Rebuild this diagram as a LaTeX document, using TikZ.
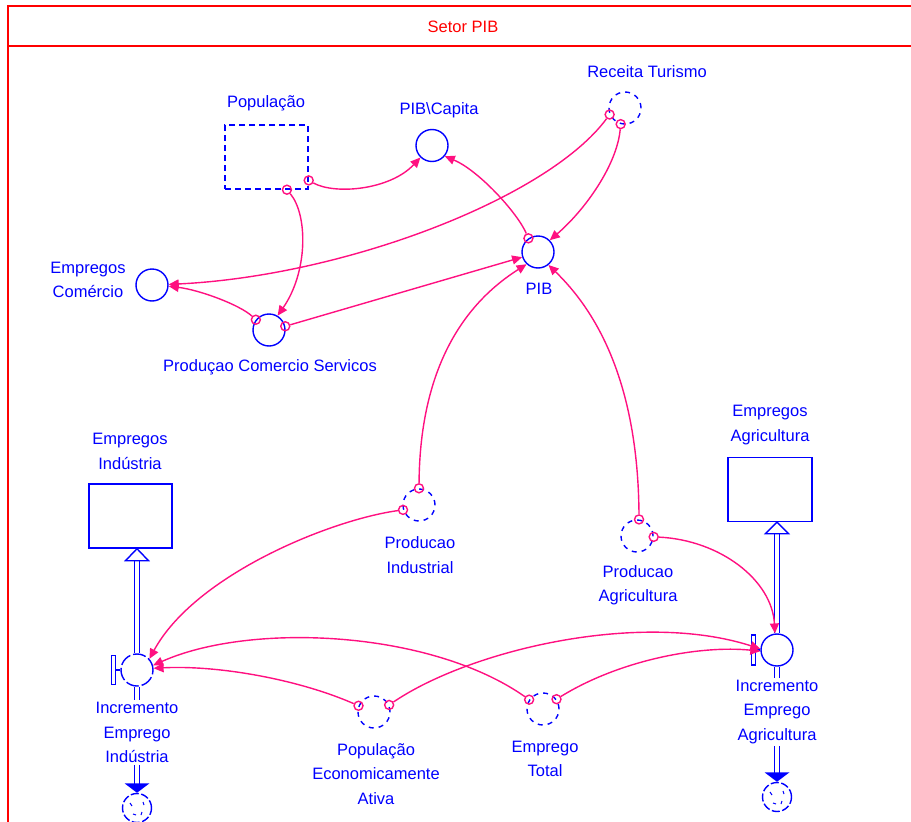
\documentclass[tikz,border=0pt]{standalone}
\usepackage{fontspec}
\setmainfont{Liberation Sans}
\usetikzlibrary{arrows.meta}
\definecolor{sblue}{RGB}{0,0,255}
\definecolor{slink}{RGB}{255,16,128}
\definecolor{sframe}{RGB}{255,0,0}

\begin{document}
\begin{tikzpicture}[x=1pt,y=-1pt,
  every node/.style={font=\fontsize{16.5}{24.5}\selectfont},
  lbl/.style={text=sblue, align=center, inner sep=2pt},
  stock/.style={draw=sblue, line width=1.4pt, minimum width=83pt, minimum height=64pt, inner sep=0},
  ghoststock/.style={stock, dash pattern=on 6pt off 4pt},
  aux/.style={circle, draw=sblue, line width=1.4pt, minimum size=32pt, inner sep=0},
  auxdash/.style={aux, dash pattern=on 5pt off 5pt},
  valve/.style={aux},
  cloud/.style={circle, draw=sblue, line width=1.4pt, minimum size=29pt, inner sep=0, dash pattern=on 8pt off 2.5pt},
  tail/.style={circle, draw=slink, line width=1.4pt, minimum size=9pt, inner sep=0},
  conn/.style={draw=slink, line width=1.4pt, -{Triangle[length=10pt,width=9pt]}},
  pipe/.style={draw=sblue, line width=1.5pt, double=white, double distance=3.6pt},
  hollowhead/.style={draw=sblue, fill=white, line width=1.4pt, line join=miter},
  handle/.style={draw=sblue, line width=1.4pt},
  framepen/.style={draw=sframe, line width=2pt}
]
\useasboundingbox (0,0) rectangle (911,822);
\clip (0,0) rectangle (911,822);

% sector frame with its title bar
\draw[framepen] (8,6) rectangle (950,860);
\draw[framepen] (8,46) -- (950,46);
\node[text=sframe, inner sep=0] (title) at (463,27) {Setor PIB};

% stocks
\node[ghoststock] (pop) at (266.5,157) {};
\node[stock] (ei) at (130.5,516) {};
\node[stock, minimum width=84pt] (ea) at (770,489.5) {};

% converters
\node[aux] (pibc) at (432,145.5) {};
\node[auxdash] (rt) at (625,108) {};
\node[aux] (pib) at (538,252) {};
\node[aux] (ec) at (152,285) {};
\node[aux] (pcs) at (269,330) {};
\node[auxdash] (pi) at (419,505) {};
\node[auxdash] (pa) at (637,536) {};
\node[auxdash] (pea) at (374,712) {};
\node[auxdash] (et) at (543,709) {};

% flow valves
\node[valve, dash pattern=on 13pt off 3pt] (iei) at (137,670) {};
\node[valve] (iea) at (777,650) {};

% clouds
\node[cloud] (cl1) at (137,808) {};
\node[cloud] (cl2) at (777,797) {};

% labels
\node[lbl] (popl) at (266,103) {População};
\node[lbl] (pibcl) at (439,110) {PIB\textbackslash Capita};
\node[lbl] (rtl) at (647,72) {Receita Turismo};
\node[lbl] (pibl) at (539,289) {PIB};
\node[lbl] (ecl) at (88,280) {Empregos\\Comércio};
\node[lbl] (pcsl) at (270,367) {Produçao Comercio Servicos};
\node[lbl] (eil) at (130,451.5) {Empregos\\Indústria};
\node[lbl] (eal) at (770,425) {Empregos\\Agricultura};
\node[lbl] (pil) at (420,555) {Producao\\Industrial};
\node[lbl] (pal) at (638,585) {Producao\\Agricultura};
\node[lbl] (ieil) at (137,732.5) {Incremento\\Emprego\\Indústria};
\node[lbl] (ieal) at (777,712) {Incremento\\Emprego\\Agricultura};
\node[lbl] (peal) at (376,774) {População\\Economicamente\\Ativa};
\node[lbl] (etl) at (545,759) {Emprego\\Total};

% valve handles
\draw[handle] (iei.west) -- ++(-5,0) coordinate (h1);
\draw[handle] (h1) ++(0,-14.5) rectangle ++(-4,29);
\draw[handle] (iea.west) -- ++(-5,0) coordinate (h2);
\draw[handle] (h2) ++(0,-15) rectangle ++(-4,30);

% flow pipes into the stocks
\draw[pipe, shorten >=11pt] (iei.north) -- (iei.north |- ei.south);
\draw[hollowhead] (iei.north |- ei.south) -- ++(-11.5,12) -- ++(23,0) -- cycle;
\draw[pipe, shorten >=11pt] (iea.north) -- (iea.north |- ea.south);
\draw[hollowhead] (iea.north |- ea.south) -- ++(-11.5,11.5) -- ++(23,0) -- cycle;

% flow pipes out to the clouds
\draw[pipe] (iei.south) -- (iei.south |- ieil.north);
\draw[pipe, shorten >=9pt] (iei.south |- ieil.south) -- (cl1.north);
\fill[sblue] (cl1.north) -- ++(-12.5,-9.5) -- ++(25,0) -- cycle;
\draw[pipe] (iea.south) -- (iea.south |- ieal.north);
\draw[pipe, shorten >=9pt] (iea.south |- ieal.south) -- (cl2.north);
\fill[sblue] (cl2.north) -- ++(-12.5,-9.5) -- ++(25,0) -- cycle;

% cloud texture
\foreach \c in {cl1,cl2}{
  \draw[sblue, line width=1pt] (\c.center) ++(-7,-5) -- ++(2,3);
  \draw[sblue, line width=1pt] (\c.center) ++(6,-6) -- ++(1,3);
  \draw[sblue, line width=1pt] (\c.center) ++(-4,6) -- ++(3,1);
  \draw[sblue, line width=1pt] (\c.center) ++(5,4) -- ++(-1,3);
}

% connector tails
\node[tail] (t1) at (pop.-58) {};
\node[tail] (t2) at (pop.-29) {};
\node[tail] (t3) at (pib.125) {};
\node[tail] (t4) at (rt.-157) {};
\node[tail] (t5) at (rt.-105) {};
\node[tail] (t6) at (pcs.142) {};
\node[tail] (t7) at (pcs.13) {};
\node[tail] (t8) at (pi.90) {};
\node[tail] (t9) at (pa.83) {};
\node[tail] (t10) at (pi.-163) {};
\node[tail] (t11) at (pa.-3) {};
\node[tail] (t12) at (pea.158) {};
\node[tail] (t13) at (pea.25) {};
\node[tail] (t14) at (et.146) {};
\node[tail] (t15) at (et.36) {};

% connectors
\draw[conn] (t1) .. controls (308,215) and (308,272) .. (pcs.59);
\draw[conn] (t2) .. controls (335,195) and (390,190) .. (pibc.-134);
\draw[conn] (t3) .. controls (517,212) and (478,170) .. (pibc.-40);
\draw[conn] (t4) .. controls (548,198) and (345,276) .. (ec.2);
\draw[conn] (t5) .. controls (617,165) and (585,210) .. (pib.45);
\draw[conn] (t6) .. controls (240,305) and (200,290) .. (ec.-4);
\draw[conn] (t7) -- (pib.-162);
\draw[conn] (t8) .. controls (420,360) and (470,300) .. (pib.-133);
\draw[conn] (t9) .. controls (638,380) and (595,310) .. (pib.-51);
\draw[conn] (t10) .. controls (330,520) and (195,575) .. (iei.42);
\draw[conn] (t11) .. controls (720,540) and (772,580) .. (iea.97);
\draw[conn] (t12) .. controls (300,680) and (220,665) .. (iei.6);
\draw[conn] (t13) .. controls (470,650) and (640,610) .. (iea.176);
\draw[conn] (t14) .. controls (430,630) and (250,622) .. (iei.16);
\draw[conn] (t15) .. controls (620,660) and (700,645) .. (iea.184);
\end{tikzpicture}
\end{document}
